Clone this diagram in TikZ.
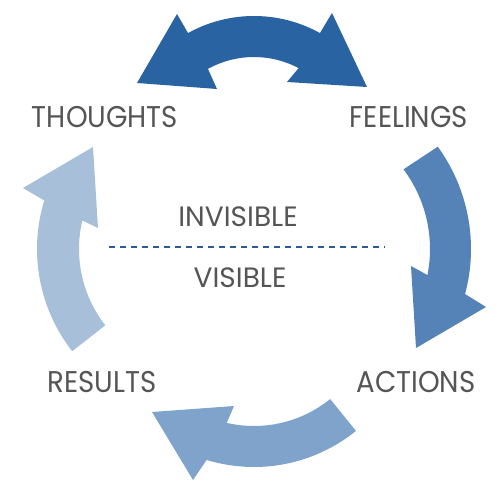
\documentclass[tikz,border=0pt]{standalone}
\usepackage{fontspec}
\setmainfont{Poppins}
\usetikzlibrary{calc}

\definecolor{thinkblue}{RGB}{42,99,161}
\definecolor{feelblue}{RGB}{85,130,183}
\definecolor{actblue}{RGB}{127,163,203}
\definecolor{resultblue}{RGB}{168,191,218}
\definecolor{wordgray}{RGB}{85,85,85}
\definecolor{lineblue}{RGB}{46,90,154}

\begin{document}
\begin{tikzpicture}[x=1pt,y=1pt,
	word/.style={text=wordgray, inner sep=0pt, anchor=base, xscale=0.92, transform shape, font=\fontsize{30}{30}\selectfont},
	smallword/.style={text=wordgray, inner sep=0pt, anchor=base, font=\fontsize{28}{28}\selectfont}]
	\useasboundingbox (0,0) rectangle (500,493);

	% Centres of the four curved arrows
	\coordinate (T) at (254,341);
	\coordinate (F) at (297,244);
	\coordinate (A) at (254,188);
	\coordinate (R) at (203,244);

	% Thoughts <-> feelings (double headed)
	\fill[thinkblue] ($(T)+(119:136)$) arc[start angle=119, end angle=61, radius=136]
		-- (332,480) -- (367,406) -- (287,411)
		-- ($(T)+(62:95)$) arc[start angle=62, end angle=119, radius=95]
		-- (217,404) -- (137,410) -- (177,479) -- cycle;

	% Feelings -> actions
	\fill[feelblue] ($(F)+(36:174)$) arc[start angle=36, end angle=-15, radius=174]
		-- (486,186) -- (416,145) -- (411,227)
		-- ($(F)+(-11.3:133)$) arc[start angle=-11.3, end angle=36.8, radius=133] -- cycle;

	% Actions -> results
	\fill[actblue] ($(A)+(-51:162)$) arc[start angle=-51, end angle=-107, radius=162]
		-- (193,13) -- (152,81) -- (234,87)
		-- ($(A)+(-103:121)$) arc[start angle=-103, end angle=-51, radius=121] -- cycle;

	% Results -> thoughts
	\fill[resultblue] ($(R)+(218:166)$) arc[start angle=218, end angle=163, radius=166]
		-- (23,305) -- (93,346) -- (98,265)
		-- ($(R)+(166.7:124)$) arc[start angle=166.7, end angle=218, radius=124] -- cycle;

	% Labels
	\node[word] (thoughts) at (105,365) {THOUGHTS};
	\node[word] (feelings) at (409,365) {FEELINGS};
	\node[word] (actions) at (416,101) {ACTIONS};
	\node[word] (results) at (102,101) {RESULTS};
	\node[smallword] (invisible) at (238,266) {INVISIBLE};
	\node[smallword] (visible) at (240,206) {VISIBLE};

	% Dividing line
	\coordinate (lineL) at (109,246);
	\coordinate (lineR) at (385,246);
	\draw[lineblue, line width=1.5pt, dash pattern=on 6pt off 5pt] (lineL) -- (lineR);
\end{tikzpicture}
\end{document}
